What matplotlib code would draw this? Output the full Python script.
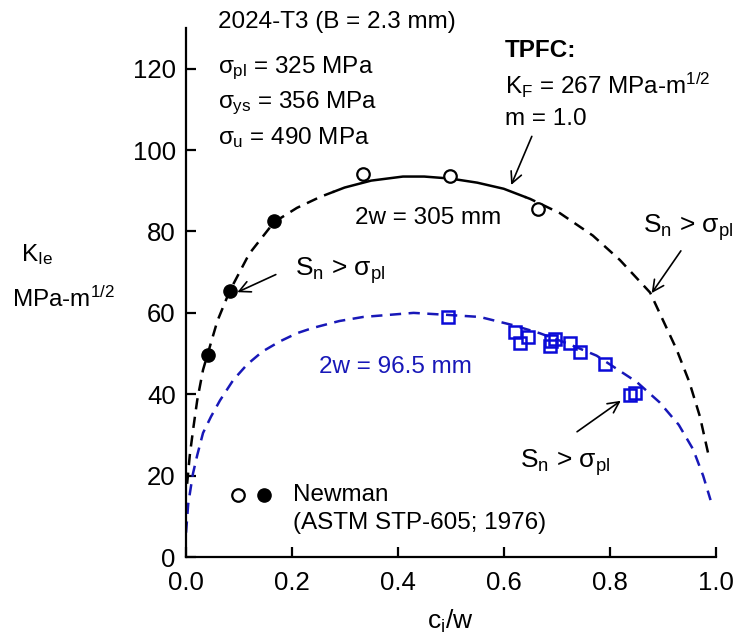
import numpy as np
import matplotlib.pyplot as plt

plt.rcParams['font.family'] = ['Liberation Sans', 'DejaVu Sans']
plt.rcParams['mathtext.fontset'] = 'custom'
plt.rcParams['mathtext.rm'] = 'Liberation Sans'
plt.rcParams['mathtext.it'] = 'Liberation Sans'
plt.rcParams['mathtext.bf'] = 'Liberation Sans:bold'

# Newman data, 2w = 305 mm (filled: Sn > sigma_pl, open: Sn < sigma_pl)
filled_x = [0.0417, 0.0833, 0.1667]
filled_y = [49.6, 65.3, 82.5]
open_x = [0.335, 0.499, 0.665]
open_y = [94.2, 93.7, 85.6]

# Newman data, 2w = 96.5 mm
sq_x = [0.495, 0.621, 0.631, 0.646, 0.687, 0.697, 0.690, 0.725, 0.744, 0.791, 0.838, 0.847]
sq_y = [58.9, 55.2, 52.5, 54.0, 51.8, 53.7, 53.0, 52.5, 50.4, 47.5, 39.8, 40.2]

# TPFC curve, 2w = 305 mm
tp305_x = [0.003, 0.008, 0.015, 0.022, 0.033, 0.042, 0.06, 0.083, 0.12, 0.167, 0.21,
           0.254, 0.28, 0.30, 0.35, 0.41, 0.45, 0.50, 0.55, 0.60, 0.64, 0.65, 0.706,
           0.768, 0.819, 0.876, 0.926, 0.95, 0.97, 0.988]
tp305_y = [18, 25, 32, 38.5, 46, 50, 58, 65.3, 74.5, 82.3, 85.8,
           88.5, 89.8, 90.8, 92.5, 93.5, 93.5, 93, 92, 90.5, 88.5, 88, 84.5,
           79, 73, 65, 51, 43, 34.5, 24]

# TPFC curve, 2w = 96.5 mm
tp96_x = [0.001, 0.005, 0.014, 0.022, 0.033, 0.048, 0.065, 0.09, 0.116, 0.145, 0.178,
          0.21, 0.24, 0.29, 0.335, 0.43, 0.495, 0.555, 0.617, 0.668, 0.72, 0.775,
          0.851, 0.894, 0.93, 0.957, 0.976, 0.99]
tp96_y = [6, 13, 20.5, 25, 30.5, 34.5, 38.5, 43.5, 47.3, 50.5, 53,
          55, 56.3, 58, 59, 60, 59.5, 59, 57, 55, 52.5, 49.5,
          43, 38, 32.5, 26.5, 20, 14]

blue_line = '#1818b8'
blue_mark = '#0a0ad8'

fig = plt.figure(figsize=(7.38, 6.44), dpi=100)
ax = fig.add_axes([0.2514, 0.135, 0.7186, 0.8215])

# black curve: dashed outside, solid in the middle
tx = np.array(tp305_x)
ty = np.array(tp305_y)
left = tx <= 0.28
mid = (tx >= 0.28) & (tx <= 0.64)
right = tx >= 0.64
dash = (0, (4.5, 3))
ax.plot(tx[left], ty[left], color='black', lw=1.8, ls=dash)
ax.plot(tx[mid], ty[mid], color='black', lw=1.8)
ax.plot(tx[right], ty[right], color='black', lw=1.8, ls=dash)

ax.plot(tp96_x, tp96_y, color=blue_line, lw=1.8, ls=dash)

ax.plot(filled_x, filled_y, 'o', color='black', ms=9.5)
ax.plot(open_x, open_y, 'o', mfc='white', mec='black', mew=1.6, ms=9)
ax.plot(sq_x, sq_y, 's', mfc='none', mec=blue_mark, mew=1.8, ms=8)

fs = 17.5

# legend (drawn by hand like the original)
ax.plot([0.099], [15.2], 'o', mfc='white', mec='black', mew=1.6, ms=9)
ax.plot([0.148], [15.2], 'o', color='black', ms=9.5)
ax.text(0.203, 15.2, 'Newman', fontsize=fs, va='center')
ax.text(0.203, 8.3, '(ASTM STP-605; 1976)', fontsize=fs, va='center')

# material info
ax.text(0.061, 131.5, '2024-T3 (B = 2.3 mm)', fontsize=fs, va='center')
ax.text(0.061, 120, r'$\sigma_{\rm pl}$ = 325 MPa', fontsize=fs, va='center')
ax.text(0.061, 111.4, r'$\sigma_{\rm ys}$ = 356 MPa', fontsize=fs, va='center')
ax.text(0.061, 103, r'$\sigma_{\rm u}$ = 490 MPa', fontsize=fs, va='center')

ax.text(0.602, 124.4, 'TPFC:', fontsize=fs, fontweight='bold', va='center')
ax.text(0.602, 115.8, r'K$_{\rm F}$ = 267 MPa-m$^{1/2}$', fontsize=fs, va='center')
ax.text(0.602, 107.7, 'm = 1.0', fontsize=fs, va='center')

ax.text(0.32, 83.4, '2w = 305 mm', fontsize=fs, va='center')
ax.text(0.252, 46.6, '2w = 96.5 mm', fontsize=fs, va='center', color=blue_line)

sn = r'S$_{\rm n}$ > $\sigma_{\rm pl}$'
ax.text(0.206, 70.4, sn, fontsize=19, va='center')
ax.text(0.862, 81, sn, fontsize=19, va='center')
ax.text(0.63, 23.3, sn, fontsize=19, va='center')

arrow = dict(arrowstyle='->', color='black', lw=1.2, mutation_scale=20)
ax.annotate('', xy=(0.612, 90.8), xytext=(0.655, 104), arrowprops=arrow)
ax.annotate('', xy=(0.093, 64.8), xytext=(0.175, 69.7), arrowprops=arrow)
ax.annotate('', xy=(0.876, 64.3), xytext=(0.937, 75.8), arrowprops=arrow)
ax.annotate('', xy=(0.825, 38.8), xytext=(0.734, 30.4), arrowprops=arrow)

ax.set_xlim(0, 1.0)
ax.set_ylim(0, 130)
ax.set_xticks([0.0, 0.2, 0.4, 0.6, 0.8, 1.0])
ax.set_xticklabels(['0.0', '0.2', '0.4', '0.6', '0.8', '1.0'])
ax.set_yticks([0, 20, 40, 60, 80, 100, 120])
ax.tick_params(direction='in', length=7, width=1.6, labelsize=18.5)
ax.tick_params(axis='x', pad=10)
ax.tick_params(axis='y', pad=7)
for s in ['top', 'right']:
    ax.spines[s].set_visible(False)
for s in ['left', 'bottom']:
    ax.spines[s].set_linewidth(1.6)

ax.set_xlabel(r'c$_{\rm i}$/w', fontsize=19, labelpad=9)
fig.text(0.028, 0.604, r'K$_{\rm Ie}$', fontsize=17.5, va='center')
fig.text(0.016, 0.535, r'MPa-m$^{1/2}$', fontsize=17.5, va='center')

fig.savefig('out.png', dpi=100)
